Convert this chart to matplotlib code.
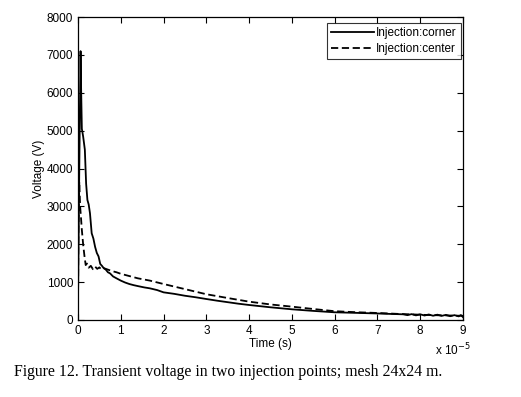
import matplotlib
matplotlib.use("Agg")
import matplotlib.pyplot as plt

# time in units of 1e-5 s, voltage in V
t_corner = [0, 0.03, 0.06, 0.07, 0.09, 0.12, 0.16, 0.19, 0.22, 0.25, 0.28, 0.32, 0.36,
            0.40, 0.44, 0.48, 0.52, 0.56, 0.60, 0.65, 0.70, 0.75, 0.82, 0.90, 1.0,
            1.1, 1.2, 1.3, 1.4, 1.55, 1.68, 1.85, 2.0, 2.25, 2.5, 2.75, 3.0, 3.25,
            3.5, 3.75, 4.0, 4.5, 5.0, 5.5, 6.0, 6.5, 7.0, 7.3, 7.6, 7.7, 7.8, 7.9,
            8.0, 8.1, 8.2, 8.3, 8.4, 8.5, 8.6, 8.7, 8.8, 8.9, 8.95, 9.0]
v_corner = [450, 4000, 7100, 6300, 5050, 4850, 4500, 3600, 3170, 3050, 2820, 2290, 2150,
            1930, 1770, 1680, 1480, 1430, 1370, 1330, 1260, 1230, 1150, 1100, 1040,
            990, 950, 920, 895, 860, 836, 790, 730, 690, 640, 600, 554, 510,
            470, 430, 396, 335, 282, 240, 203, 188, 172, 160, 150, 128, 155, 122,
            150, 118, 145, 112, 140, 108, 135, 100, 128, 95, 130, 75]

t_center = [0, 0.01, 0.03, 0.05, 0.07, 0.09, 0.12, 0.15, 0.18, 0.21, 0.25, 0.30, 0.35,
            0.40, 0.45, 0.50, 0.55, 0.60, 0.70, 0.80, 0.90, 1.0, 1.2, 1.4, 1.68,
            2.0, 2.5, 3.0, 3.5, 4.0, 4.5, 5.0, 5.5, 6.0, 6.5, 7.0, 7.5, 7.8, 8.1,
            8.4, 8.7, 9.0]
v_center = [300, 2500, 3650, 3000, 2700, 2380, 2000, 1700, 1450, 1490, 1380, 1430, 1340,
            1410, 1350, 1390, 1330, 1370, 1330, 1290, 1260, 1220, 1160, 1100, 1040,
            950, 815, 680, 580, 484, 410, 352, 290, 232, 205, 185, 160, 148, 135,
            125, 118, 110]

xticks = list(range(0, 10))
yticks = list(range(0, 8001, 1000))

plt.rcParams['font.family'] = ['Liberation Sans', 'DejaVu Sans']

fig = plt.figure(figsize=(5.21, 3.97), dpi=100)
ax = fig.add_axes([0.1497, 0.194, 0.739, 0.763])

ax.plot(t_corner, v_corner, color='black', lw=1.3, label='Injection:corner')
ax.plot(t_center, v_center, color='black', lw=1.3, ls=(0, (4, 2)), label='Injection:center')

ax.set_xlim(0, 9)
ax.set_ylim(0, 8000)
ax.set_xticks(xticks)
ax.set_yticks(yticks)
ax.tick_params(direction='in', top=True, right=True, labelsize=8.5, length=4, width=0.8)
for s in ax.spines.values():
    s.set_linewidth(0.9)

ax.set_xlabel('Time (s)', fontsize=8.5, labelpad=1)
ax.set_ylabel('Voltage (V)', fontsize=8.5, labelpad=1)
fig.text(0.835, 0.118, r'x 10$^{-5}$', fontsize=8.5, ha='left', va='center')

leg = ax.legend(loc='upper right', bbox_to_anchor=(0.995, 0.98), fontsize=8.5,
                handlelength=3.6, frameon=True, fancybox=False, borderaxespad=0,
                borderpad=0.35, labelspacing=0.3, handletextpad=0.2)
leg.get_frame().set_edgecolor('black')
leg.get_frame().set_linewidth(0.8)

fig.text(0.027, 0.063, 'Figure 12. Transient voltage in two injection points; mesh 24x24 m.',
         fontsize=11.3, family='Liberation Serif', ha='left', va='center')

fig.savefig('out.png', dpi=100)
